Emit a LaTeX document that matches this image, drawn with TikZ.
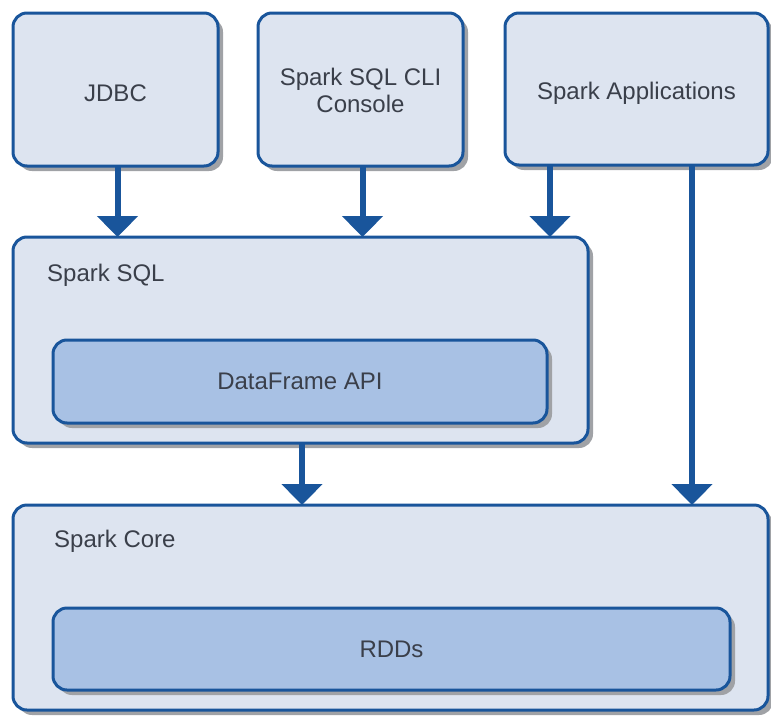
\documentclass[tikz,border=0pt]{standalone}
\usepackage{fontspec}
\setmainfont{Liberation Sans}
\usetikzlibrary{arrows.meta,shadows}
\definecolor{bord}{RGB}{25,85,155}
\definecolor{outerfill}{RGB}{221,228,240}
\definecolor{innerfill}{RGB}{168,193,228}
\definecolor{txt}{RGB}{58,63,74}
\definecolor{shadowgray}{RGB}{160,162,166}
\newcommand{\lowertext}[1]{\raisebox{-4pt}[\height][\depth]{#1}}
\begin{document}
\begin{tikzpicture}[x=1pt,y=-1pt,
  box/.style={draw=bord, line width=3pt, fill=outerfill, rounded corners=14pt,
    inner sep=0pt, outer sep=0pt,
    drop shadow={shadow xshift=5pt, shadow yshift=-5pt, fill=shadowgray, opacity=1},
    text=txt, font=\fontsize{24}{27}\selectfont, align=center},
  innerbox/.style={box, fill=innerfill},
  lbl/.style={anchor=west, inner sep=0pt, text=txt, font=\fontsize{24}{27}\selectfont},
  arr/.style={draw=bord, line width=6pt, -{Triangle[width=40pt,length=21pt]}, bord}
]
\useasboundingbox (0,0) rectangle (771,715);
% top row
\node[box, minimum width=205pt, minimum height=153pt] (jdbc) at (115.5,89.5) {\lowertext{JDBC}};
\node[box, minimum width=205pt, minimum height=153pt] (cli) at (360.5,89.5)
  {\lowertext{\begin{tabular}{@{}c@{}}Spark SQL CLI\\Console\end{tabular}}};
\node[box, minimum width=263pt, minimum height=152pt] (app) at (636.5,89) {\lowertext{Spark Applications}};
% Spark SQL
\node[box, minimum width=575pt, minimum height=206pt] (sql) at (300.5,340) {};
\node[lbl] (sqllbl) at (47,275) {Spark SQL};
\node[innerbox, minimum width=494pt, minimum height=83pt] (df) at (300,381.5) {DataFrame API};
% Spark Core
\node[box, minimum width=755pt, minimum height=205pt] (core) at (390.5,607.5) {};
\node[lbl] (corelbl) at (54,541) {Spark Core};
\node[innerbox, minimum width=677pt, minimum height=82pt] (rdd) at (391.5,649) {RDDs};
% arrows
\draw[arr] ([xshift=2pt]jdbc.south) -- ([xshift=2pt]jdbc.south |- sql.north);
\draw[arr] ([xshift=2pt]cli.south) -- ([xshift=2pt]cli.south |- sql.north);
\draw[arr] ([xshift=45pt]app.south west) -- ([xshift=45pt]app.south west |- sql.north);
\draw[arr] ([xshift=187pt]app.south west) -- ([xshift=187pt]app.south west |- core.north);
\draw[arr] ([xshift=1.5pt]sql.south) -- ([xshift=1.5pt]sql.south |- core.north);
\end{tikzpicture}
\end{document}
